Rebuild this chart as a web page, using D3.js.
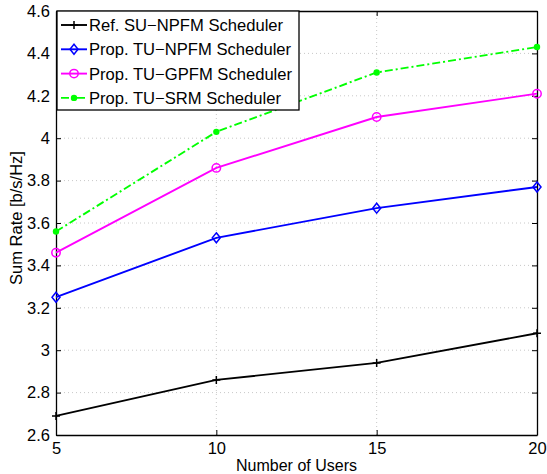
<!DOCTYPE html>
<html>
<head>
<meta charset="utf-8">
<script src="https://cdn.jsdelivr.net/npm/d3@7"></script>
<style>
  body { margin: 0; background: #fff; }
  text { font-family: "Liberation Sans", Arial, sans-serif; }
</style>
</head>
<body>
<div id="chart"></div>
<script>
// 資料
const users = [5, 10, 15, 20];
const suNpfm = [2.69, 2.86, 2.94, 3.08];
const tuNpfm = [3.25, 3.53, 3.67, 3.77];
const tuGpfm = [3.46, 3.86, 4.10, 4.21];
const tuSrm = [3.56, 4.03, 4.31, 4.43];
const xTicks = [5, 10, 15, 20];
const yTicks = [2.6, 2.8, 3, 3.2, 3.4, 3.6, 3.8, 4, 4.2, 4.4, 4.6];
const seriesNames = [
  "Ref. SU\u2212NPFM Scheduler",
  "Prop. TU\u2212NPFM Scheduler",
  "Prop. TU\u2212GPFM Scheduler",
  "Prop. TU\u2212SRM Scheduler",
];

const width = 547, height = 474;
const padding = { top: 11, left: 56, bottom: 39, right: 10 };

const series = [
  { name: seriesNames[0], values: suNpfm, color: "#000000", marker: "plus", dash: null },
  { name: seriesNames[1], values: tuNpfm, color: "#0000ff", marker: "diamond", dash: null },
  { name: seriesNames[2], values: tuGpfm, color: "#ff00ff", marker: "circle", dash: null },
  { name: seriesNames[3], values: tuSrm, color: "#00ff00", marker: "dot", dash: "8,3,2,3" },
];

const svg = d3.select("#chart").append("svg")
  .attr("width", width).attr("height", height);

const x = d3.scaleLinear().domain([5, 20])
  .range([padding.left, width - padding.right]);
const y = d3.scaleLinear().domain([2.6, 4.6])
  .range([height - padding.bottom, padding.top]);

// 格線
const grid = svg.append("g").attr("stroke", "#c8c8c8").attr("stroke-width", 1)
  .attr("stroke-dasharray", "1,3");
xTicks.slice(1, -1).forEach((t) => {
  grid.append("line").attr("x1", x(t)).attr("x2", x(t))
    .attr("y1", y(2.6)).attr("y2", y(4.6));
});
yTicks.slice(1, -1).forEach((t) => {
  grid.append("line").attr("x1", x(5)).attr("x2", x(20))
    .attr("y1", y(t)).attr("y2", y(t));
});

// 座標軸 (MATLAB 風格，刻度向內)
const fmt = (d) => String(+d.toFixed(1));
const axisStyle = (g) => {
  g.select(".domain").attr("stroke", "#000").attr("stroke-width", 1.3);
  g.selectAll(".tick line").attr("stroke", "#000").attr("stroke-width", 1);
  g.selectAll("text").style("font-size", "16.5px").attr("fill", "#000");
};

svg.append("g").attr("transform", `translate(0, ${y(2.6)})`)
  .call(d3.axisBottom(x).tickValues(xTicks).tickSize(-5).tickSizeOuter(0).tickPadding(4).tickFormat(d3.format("d")))
  .call(axisStyle)
  .selectAll("text").attr("dy", "0.9em");

svg.append("g").attr("transform", `translate(0, ${y(4.6)})`)
  .call(d3.axisTop(x).tickValues(xTicks).tickSize(-5).tickSizeOuter(0).tickFormat(""))
  .call(axisStyle);

svg.append("g").attr("transform", `translate(${x(5)}, 0)`)
  .call(d3.axisLeft(y).tickValues(yTicks).tickSize(-5).tickSizeOuter(0).tickPadding(6).tickFormat(fmt))
  .call(axisStyle);

svg.append("g").attr("transform", `translate(${x(20)}, 0)`)
  .call(d3.axisRight(y).tickValues(yTicks).tickSize(-5).tickSizeOuter(0).tickFormat(""))
  .call(axisStyle);

// 標記
function drawMarker(g, type, cx, cy, color) {
  if (type === "plus") {
    g.append("path").attr("d", `M${cx - 4},${cy}H${cx + 4}M${cx},${cy - 4}V${cy + 4}`)
      .attr("stroke", color).attr("stroke-width", 1.5);
  } else if (type === "diamond") {
    g.append("path").attr("d", `M${cx},${cy - 5}L${cx + 4},${cy}L${cx},${cy + 5}L${cx - 4},${cy}Z`)
      .attr("stroke", color).attr("stroke-width", 1.5).attr("fill", "none");
  } else if (type === "circle") {
    g.append("circle").attr("cx", cx).attr("cy", cy).attr("r", 4.2)
      .attr("stroke", color).attr("stroke-width", 1.5).attr("fill", "none");
  } else if (type === "dot") {
    g.append("circle").attr("cx", cx).attr("cy", cy).attr("r", 3.2).attr("fill", color);
  }
}

const line = d3.line().x((d) => x(d[0])).y((d) => y(d[1]));

series.forEach((s) => {
  const pts = users.map((u, i) => [u, s.values[i]]);
  const g = svg.append("g");
  g.append("path").datum(pts)
    .attr("fill", "none").attr("stroke", s.color).attr("stroke-width", 1.9)
    .attr("stroke-dasharray", s.dash).attr("d", line);
  pts.forEach((p) => drawMarker(g, s.marker, x(p[0]), y(p[1]), s.color));
});

// 圖例
const lg = svg.append("g");
const lgX = x(5) + 1, lgY = y(4.6);
lg.append("rect").attr("x", lgX).attr("y", lgY).attr("width", 242).attr("height", 99)
  .attr("fill", "#fff").attr("stroke", "#000").attr("stroke-width", 1.3);
series.forEach((s, i) => {
  const cy = lgY + 14 + i * 24.3;
  lg.append("line").attr("x1", lgX + 4).attr("x2", lgX + 30).attr("y1", cy).attr("y2", cy)
    .attr("stroke", s.color).attr("stroke-width", 1.9).attr("stroke-dasharray", s.dash);
  drawMarker(lg, s.marker, lgX + 17, cy, s.color);
  lg.append("text").attr("x", lgX + 32).attr("y", cy).attr("dy", "0.36em")
    .style("font-size", "16.6px").text(s.name);
});

// 軸標題
svg.append("text").attr("x", (x(5) + x(20)) / 2).attr("y", height - 3)
  .attr("text-anchor", "middle").style("font-size", "16px").text("Number of Users");
svg.append("text").attr("transform", `translate(22, ${(y(2.6) + y(4.6)) / 2 - 5}) rotate(-90)`)
  .attr("text-anchor", "middle").style("font-size", "16.5px").text("Sum Rate [b/s/Hz]");
</script>
</body>
</html>
